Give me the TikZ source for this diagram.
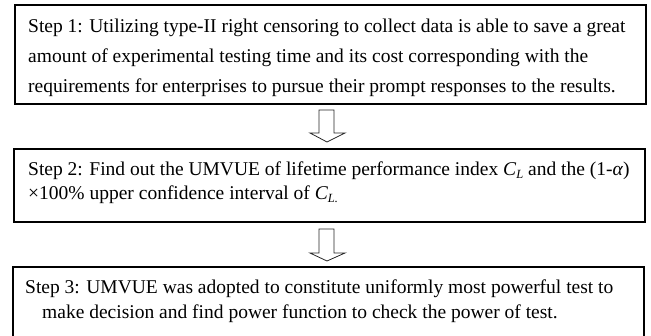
\documentclass[tikz,border=0pt]{standalone}
\usepackage{fontspec}
\setmainfont{Liberation Serif}
\newcommand\lowsub[1]{\raisebox{-0.35ex}{\fontsize{12.5}{14}\selectfont\itshape #1}}
\begin{document}
\begin{tikzpicture}[x=1pt,y=-1pt,
  stepbox/.style={draw=black,line width=2pt,inner sep=0pt},
  steptext/.style={anchor=base west,inner sep=0pt,font=\fontsize{19.5}{24}\selectfont},
  hollow/.style={draw=black!85,line width=0.8pt,fill=white,line join=miter}]
\useasboundingbox (0,0) rectangle (651,335);
\clip (0,0) rectangle (651,335);
% boxes
\draw[stepbox] (15,5) rectangle (646,104);
\node[inner sep=0pt] (b1) at (330.5,54.5) {};
\draw[stepbox] (14,149) rectangle (645,222);
\node[inner sep=0pt] (b2) at (329.5,185.5) {};
\draw[stepbox] (13,267) rectangle (644,345);
\node[inner sep=0pt] (b3) at (328.5,306) {};
% texts box 1
\node[steptext] (t11) at (28,32) {Step 1: Utilizing type-II right censoring to collect data is able to save a great};
\node[steptext] (t12) at (28,62) {amount of experimental testing time and its cost corresponding with the};
\node[steptext] (t13) at (28,92) {requirements for enterprises to pursue their prompt responses to the results.};
% texts box 2
\node[steptext] (t21) at (28,175) {Step 2: Find out the UMVUE of lifetime performance index \textit{C}\lowsub{L} and the (1-\textit{α})};
\node[steptext] (t22) at (28,199) {×100\% upper confidence interval of \textit{C}\lowsub{L.}};
% texts box 3
\node[steptext] (t31) at (25,293) {Step 3: UMVUE was adopted to constitute uniformly most powerful test to};
\node[steptext] (t32) at (42,318) {make decision and find power function to check the power of test.};
% hollow arrows
\draw[hollow] (319,110) -- (334,110) -- (334,133) -- (345,133) -- (327,142) -- (310,133) -- (319,133) -- cycle;
\draw[hollow] (319,229) -- (334,229) -- (334,253) -- (345,253) -- (327,261) -- (310,253) -- (319,253) -- cycle;
\end{tikzpicture}
\end{document}
